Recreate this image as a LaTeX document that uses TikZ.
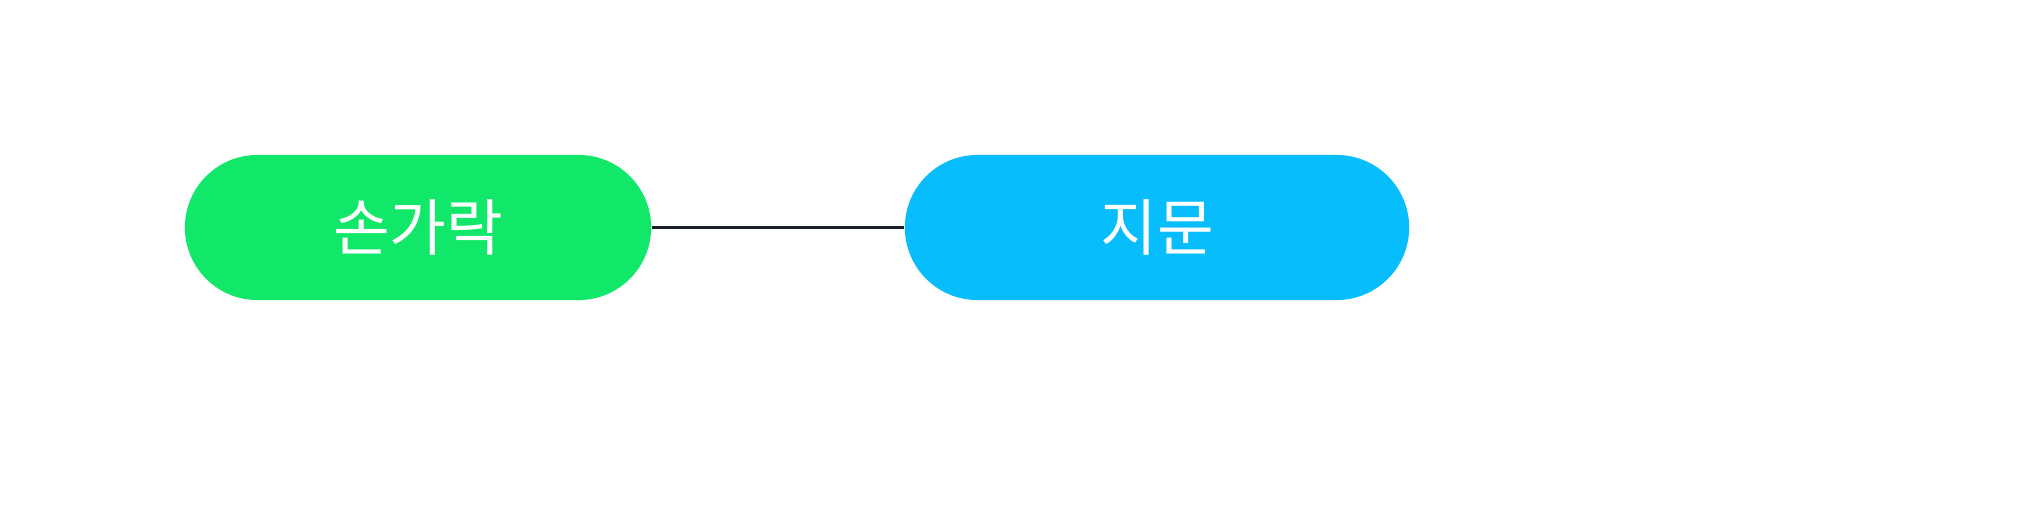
\documentclass[tikz,border=0pt]{standalone}
\usepackage{fontspec}
\newfontfamily\kr{Noto Sans CJK KR}
\definecolor{pillgreen}{HTML}{11E86A}
\definecolor{pillblue}{HTML}{08BDFB}
\definecolor{linkcol}{HTML}{1A1F2E}
\begin{document}
\begin{tikzpicture}[x=0.01cm,y=-0.01cm,
  pill/.style={rectangle, rounded corners=0.725cm, minimum height=1.45cm, inner sep=0pt,
    text=white, font=\kr\fontsize{17.5}{21}\selectfont},
  link/.style={draw=linkcol, line width=1.1pt}]
\useasboundingbox[fill=white] (0,0) rectangle (2019,512);
\node[pill, fill=pillgreen, minimum width=4.66cm] (a) at (418,227.5) {손가락};
\node[pill, fill=pillblue, minimum width=5.04cm] (b) at (1157,227.5) {지문};
\draw[link] (a) -- (b);
\end{tikzpicture}
\end{document}
